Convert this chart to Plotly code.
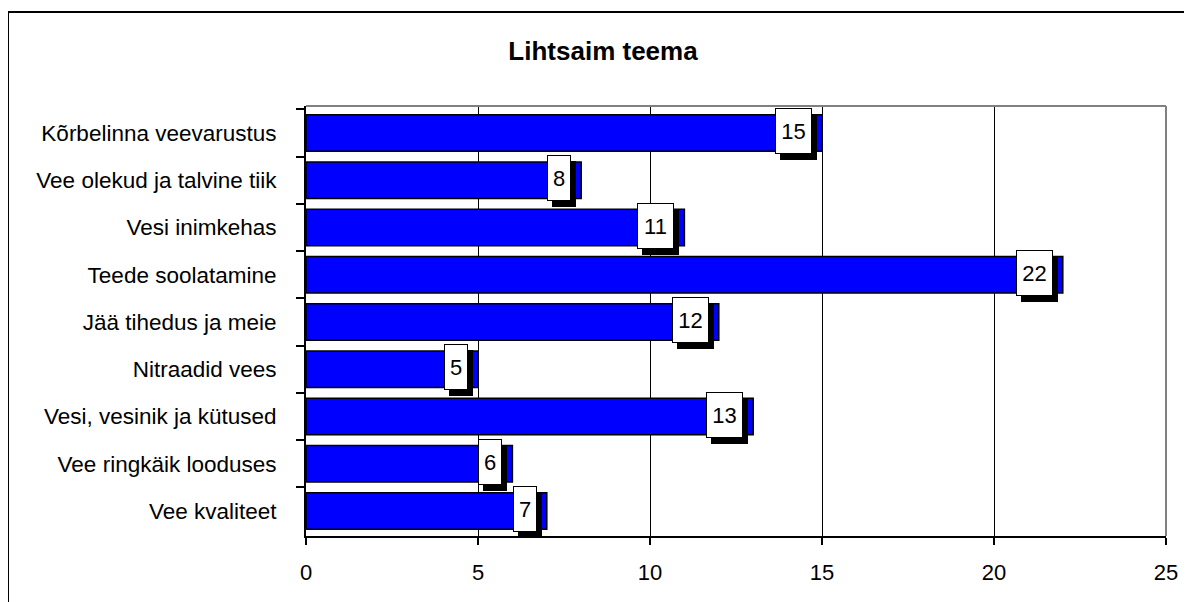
import plotly.graph_objects as go

# teemad ülalt alla, nagu joonisel
topics = [
    "Kõrbelinna veevarustus",
    "Vee olekud ja talvine tiik",
    "Vesi inimkehas",
    "Teede soolatamine",
    "Jää tihedus ja meie",
    "Nitraadid vees",
    "Vesi, vesinik ja kütused",
    "Vee ringkäik looduses",
    "Vee kvaliteet",
]
counts = [15, 8, 11, 22, 12, 5, 13, 6, 7]
x_ticks = [0, 5, 10, 15, 20, 25]

FONT = "Arial, Liberation Sans, sans-serif"
# page body has an 8px margin, so the figure is 8px smaller and shifted
OFF = 8
W, H = 1192 - OFF, 602 - OFF
L, R, T, B = 306 - OFF, 26, 106 - OFF, 66

fig = go.Figure()
fig.add_trace(go.Bar(
    x=counts, y=topics, orientation="h",
    marker=dict(color="#0000FF", line=dict(color="black", width=1.5)),
    showlegend=False, hoverinfo="x+y",
))

# value labels: black shadow box first, white box on top
for topic, val in zip(topics, counts):
    txt = str(val)
    w = 13 * len(txt) + 7
    for fill, label, dx, dy in (("black", "\u00a0", -5, -4), ("white", txt, -10, 2)):
        fig.add_annotation(
            x=val, y=topic, xref="x", yref="y", text=label, showarrow=False,
            xanchor="right", yanchor="middle", xshift=dx, yshift=dy,
            width=w, height=42, borderpad=1,
            bgcolor=fill, bordercolor="black", borderwidth=1,
            font=dict(family=FONT, size=22, color="black"),
        )

# plot area top/right border (grey) and outer chart frame
px = lambda v: (v - OFF - L) / (W - L - R)
py = lambda v: (H - B - (v - OFF)) / (H - T - B)
fig.add_shape(type="line", xref="paper", yref="paper", x0=0, x1=1, y0=1, y1=1,
              line=dict(color="#808080", width=2))
fig.add_shape(type="line", xref="paper", yref="paper", x0=1, x1=1, y0=0, y1=1,
              line=dict(color="#808080", width=2))
fig.add_shape(type="rect", xref="paper", yref="paper",
              x0=px(8), y0=py(640), x1=px(1240), y1=py(12),
              line=dict(color="black", width=2), fillcolor="rgba(0,0,0,0)")

fig.update_layout(
    width=W, height=H,
    margin=dict(l=L, r=R, t=T, b=B),
    paper_bgcolor="white", plot_bgcolor="white",
    bargap=0.23,
    font=dict(family=FONT, size=22, color="black"),
    title=dict(text="<b>Lihtsaim teema</b>", x=(603 - OFF) / W, xanchor="center",
               y=1 - (51 - OFF) / H, yanchor="middle",
               font=dict(family=FONT, size=26, color="black")),
)
fig.update_xaxes(
    range=[0, 25], tickvals=x_ticks, showgrid=True, gridcolor="black", gridwidth=1,
    zeroline=False, showline=True, linecolor="black", linewidth=2,
    ticks="outside", ticklen=7, tickcolor="black", tickwidth=1.5,
    ticklabelstandoff=9, tickfont=dict(size=22), fixedrange=True,
)
fig.update_yaxes(
    autorange="reversed", showgrid=False, showline=True, linecolor="black", linewidth=2,
    ticks="outside", tickson="boundaries", ticklen=8, tickcolor="black", tickwidth=1.5,
    ticklabelstandoff=23, tickfont=dict(size=22.5), fixedrange=True,
)

fig.write_html("out.html")
